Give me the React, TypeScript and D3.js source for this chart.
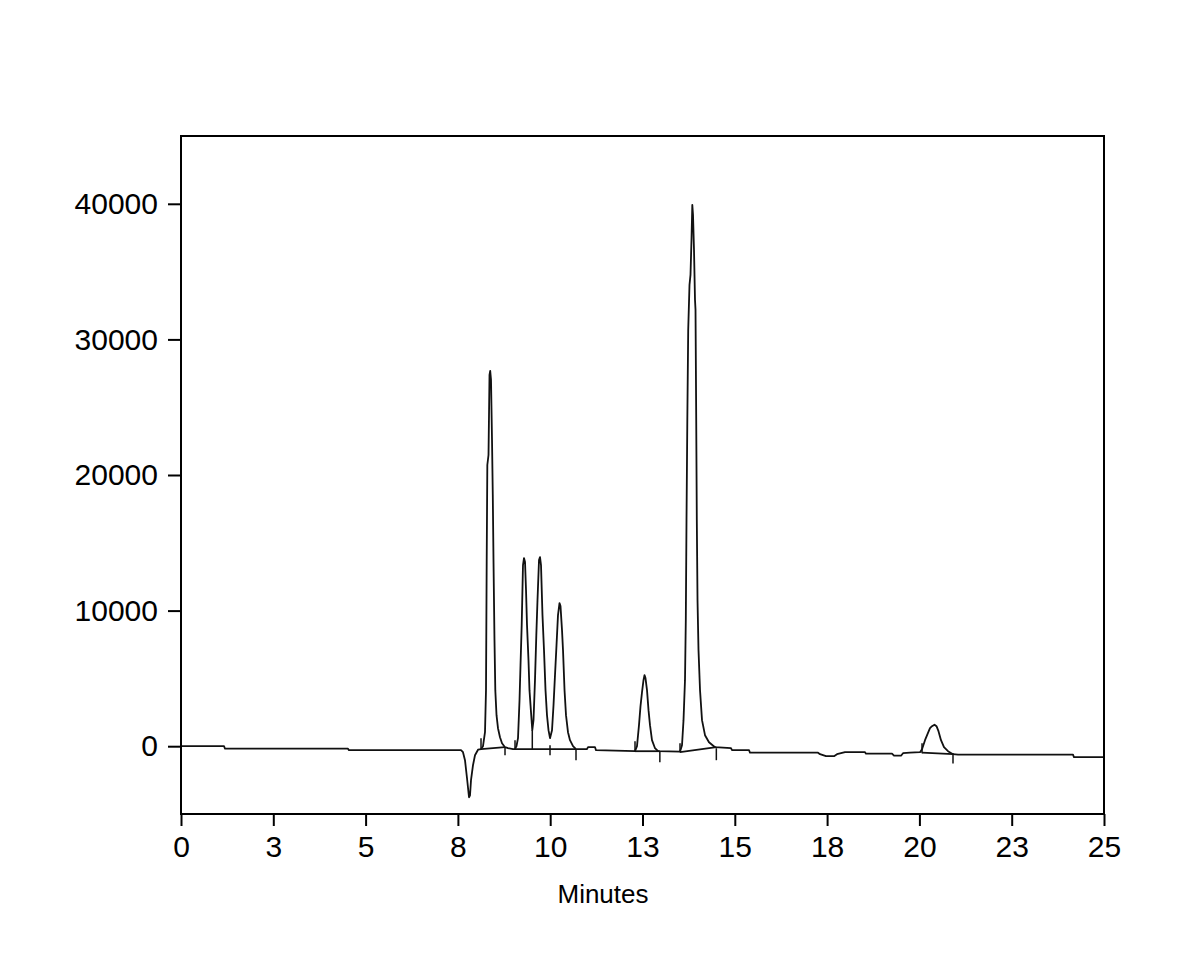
import * as d3 from 'd3';
import React, { useEffect, useRef } from 'react';

// chromatogram trace
const minutes = [
  0, 1.165, 1.192, 4.523, 4.55, 7.584, 7.638, 7.692, 7.747, 7.801, 7.828, 7.855, 7.909, 7.963,
  8.045, 8.126, 8.18, 8.234, 8.261, 8.28, 8.297, 8.329, 8.356, 8.375, 8.397, 8.424, 8.445, 8.464,
  8.491, 8.513, 8.546, 8.586, 8.64, 8.695, 8.776, 8.857, 8.993, 9.047, 9.087, 9.128, 9.169, 9.196,
  9.228, 9.263, 9.29, 9.318, 9.345, 9.372, 9.412, 9.439, 9.48, 9.515, 9.548, 9.588, 9.624, 9.656,
  9.697, 9.724, 9.751, 9.791, 9.832, 9.873, 9.913, 9.954, 9.995, 10.049, 10.09, 10.13, 10.171,
  10.211, 10.252, 10.279, 10.32, 10.347, 10.388, 10.428, 10.482, 10.536, 10.618, 10.699, 10.997,
  11.024, 11.214, 11.241, 12.297, 12.351, 12.405, 12.446, 12.487, 12.527, 12.554, 12.581, 12.622,
  12.663, 12.703, 12.757, 12.839, 12.92, 13.516, 13.57, 13.611, 13.651, 13.673, 13.692, 13.714,
  13.738, 13.773, 13.8, 13.827, 13.849, 13.868, 13.895, 13.922, 13.936, 13.955, 13.971, 13.99,
  14.017, 14.058, 14.112, 14.193, 14.301, 14.464, 14.897, 14.924, 15.385, 15.412, 17.254, 17.308,
  17.47, 17.687, 17.768, 17.985, 18.527, 18.554, 19.258, 19.312, 19.502, 19.556, 19.746, 20.017,
  20.071, 20.152, 20.219, 20.287, 20.341, 20.409, 20.463, 20.517, 20.585, 20.666, 20.775, 20.91,
  21.046, 24.16, 24.187, 25,
];

const signal = [
  0, 0, -185, -185, -295, -295, -443, -1033, -2362, -3764, -3616, -2509, -1402, -664,
  -258, -221, 0, 1033, 4133, 13727, 20738, 21476, 27380, 27675, 27011, 22583, 18524, 13727,
  7823, 4133, 2288, 1328, 664, 221, -74, -148, -221, -221, 0, 590, 3395, 5978,
  8930, 13358, 13874, 13579, 11513, 8930, 6347, 4133, 2509, 1181, 1919, 4871, 8192, 10775,
  13727, 13948, 13358, 9668, 7085, 4133, 2288, 1181, 590, 1181, 3026, 5240, 7454,
  9668, 10553, 10332, 8561, 7085, 4133, 2288, 1033, 443, 0, -221, -221,
  -74, -74, -295, -369, 0, 1550, 2952, 3985, 4871, 5240, 5018, 4133,
  2657, 1550, 443, -148, -369, -406, 74, 1919, 4871, 9299, 16679, 24059,
  30701, 34022, 34760, 37343, 39926, 39188, 36605, 32915, 32177, 24059, 16679, 10775,
  7085, 4133, 1919, 812, 295, -74, -148, -295, -295, -480, -480, -590,
  -738, -738, -590, -443, -443, -554, -554, -701, -701, -517, -480, -443,
  -221, 443, 886, 1328, 1476, 1587, 1476, 1107, 443, -74, -369, -590,
  -627, -627, -812, -812,
];

// integration baselines drawn under the peaks
const baseStartMin = [8.126, 9.047, 12.297, 13.516, 20.071];
const baseStartVal = [-221, -221, -369, -443, -480];
const baseEndMin = [8.776, 10.699, 12.97, 14.5, 20.91];
const baseEndVal = [-74, -221, -369, -74, -590];

// peak start / end event marks
const markMin = [8.126, 9.047, 12.297, 13.516, 20.071, 8.776, 9.515, 9.995, 10.699, 12.97, 14.5, 20.91];
const markLow = [-221, -221, -369, -443, -517, -664, -258, -664, -1033, -1181, -1033, -1275];
const markHigh = [590, 443, 369, 221, 221, -74, 1181, 74, -221, -369, -148, -517];

const xTicks = [0, 2.5, 5, 7.5, 10, 12.5, 15, 17.5, 20, 22.5, 25];
const yTicks = [0, 10000, 20000, 30000, 40000];

const W = 1193;
const H = 980;
const margin = { top: 136, right: 89, bottom: 166, left: 181 };

const App: React.FC = () => {
  const ref = useRef<SVGSVGElement | null>(null);

  useEffect(() => {
    const svg = d3.select(ref.current);
    svg.selectAll('*').remove();
    const iw = W - margin.left - margin.right;
    const ih = H - margin.top - margin.bottom;

    const x = d3.scaleLinear().domain([0, 25]).range([0, iw]);
    const y = d3.scaleLinear().domain([-5000, 45000]).range([ih, 0]);

    const g = svg.append('g').attr('transform', `translate(${margin.left},${margin.top})`);
    const font = '"Liberation Sans", Arial, sans-serif';

    // trace
    const pts: [number, number][] = minutes.map((m, i) => [m, signal[i]]);
    const line = d3.line<[number, number]>().x(d => x(d[0])).y(d => y(d[1]));
    g.append('path')
      .datum(pts)
      .attr('d', line)
      .attr('fill', 'none')
      .attr('stroke', '#111')
      .attr('stroke-width', 1.8)
      .attr('stroke-linejoin', 'round');

    // baselines
    g.selectAll('.bl')
      .data(baseStartMin)
      .enter()
      .append('line')
      .attr('x1', d => x(d))
      .attr('y1', (_, i) => y(baseStartVal[i]))
      .attr('x2', (_, i) => x(baseEndMin[i]))
      .attr('y2', (_, i) => y(baseEndVal[i]))
      .attr('stroke', '#111')
      .attr('stroke-width', 1.8);

    // event marks
    g.selectAll('.mk')
      .data(markMin)
      .enter()
      .append('line')
      .attr('x1', d => x(d))
      .attr('x2', d => x(d))
      .attr('y1', (_, i) => y(markLow[i]))
      .attr('y2', (_, i) => y(markHigh[i]))
      .attr('stroke', '#111')
      .attr('stroke-width', 1.5);

    // frame
    g.append('rect')
      .attr('x', 0)
      .attr('y', 0)
      .attr('width', iw)
      .attr('height', ih)
      .attr('fill', 'none')
      .attr('stroke', '#000')
      .attr('stroke-width', 2);

    const xAxis = g.append('g')
      .attr('transform', `translate(0,${ih})`)
      .call(
        d3.axisBottom(x)
          .tickValues(xTicks)
          .tickSize(12)
          .tickPadding(10)
          .tickFormat(d => String(Math.floor(+d + 0.5)))
      );
    xAxis.select('.domain').remove();
    xAxis.selectAll('line').attr('stroke', '#000').attr('stroke-width', 2);
    xAxis.selectAll('text').attr('font-family', font).attr('font-size', 30).attr('fill', '#000');

    const yAxis = g.append('g')
      .call(
        d3.axisLeft(y)
          .tickValues(yTicks)
          .tickSize(13)
          .tickPadding(10)
          .tickFormat(d => String(d))
      );
    yAxis.select('.domain').remove();
    yAxis.selectAll('line').attr('stroke', '#000').attr('stroke-width', 2);
    yAxis.selectAll('text').attr('font-family', font).attr('font-size', 30).attr('fill', '#000');

    g.append('text')
      .attr('x', 603 - margin.left)
      .attr('y', ih + 89)
      .attr('text-anchor', 'middle')
      .attr('font-family', font)
      .attr('font-size', 26)
      .attr('fill', '#000')
      .text('Minutes');
  }, []);

  return (
    <svg
      ref={ref}
      width={W}
      height={H}
      style={{ position: 'absolute', left: 0, top: 0, background: '#fff' }}
    />
  );
};

export default App;
